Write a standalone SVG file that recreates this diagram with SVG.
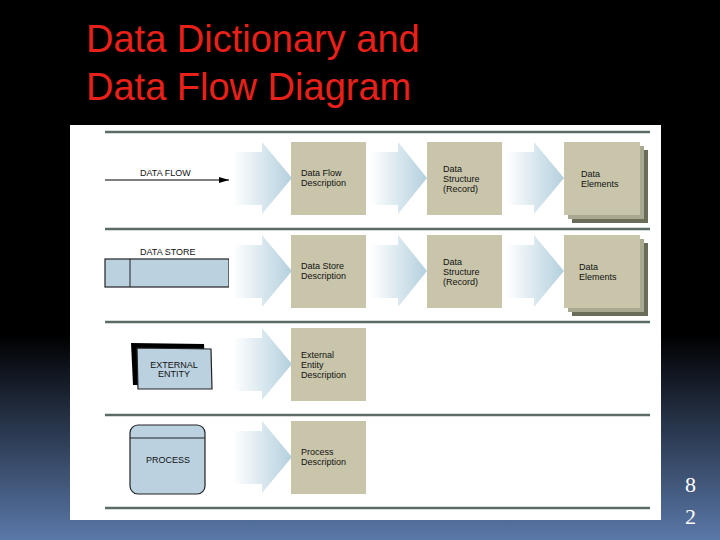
<svg xmlns="http://www.w3.org/2000/svg" width="720" height="540" viewBox="0 0 720 540">
<defs>
<linearGradient id="bg" x1="0" y1="0" x2="0" y2="1">
<stop offset="0" stop-color="#000"/><stop offset="0.62" stop-color="#000"/><stop offset="1" stop-color="#5a78a8"/>
</linearGradient>
<linearGradient id="ag" x1="0" y1="0" x2="1" y2="0">
<stop offset="0" stop-color="#fff"/><stop offset="1" stop-color="#b4d0de"/>
</linearGradient>
<marker id="ah" viewBox="0 0 10 6" refX="10" refY="3" markerWidth="10" markerHeight="6" orient="auto" markerUnits="userSpaceOnUse"><path d="M0,0L10,3L0,6z" fill="#000"/></marker>
</defs>
<style>
.t{font-family:"Liberation Sans",Arial,sans-serif;font-size:9px;fill:#111}
.b{fill:#c9c5aa}
.s1{fill:#a9a890}.s2{fill:#6c6c5a}
.sep{stroke:#5b6b68;stroke-width:2.5}
.sym{fill:#bcd1e0;stroke:#222;stroke-width:1.2}
.ttl{font-family:"Liberation Sans",Arial,sans-serif;font-size:38px;fill:#e8201a}
</style>
<rect width="720" height="540" fill="url(#bg)"/>
<text class="ttl" x="86" y="52">Data Dictionary and</text>
<text class="ttl" x="86" y="100">Data Flow Diagram</text>
<g font-family="Liberation Serif,serif" font-size="22" fill="#fff"><text x="685" y="492">8</text><text x="685" y="524">2</text></g>
<rect x="70" y="125" width="591" height="395" fill="#fff"/>
<g id="separators">
<line class="sep" x1="105" y1="132" x2="650" y2="132"/>
<line class="sep" x1="105" y1="229" x2="650" y2="229"/>
<line class="sep" x1="105" y1="322" x2="650" y2="322"/>
<line class="sep" x1="105" y1="415" x2="650" y2="415"/>
<line class="sep" x1="105" y1="508" x2="650" y2="508"/>
</g>
<g id="connectors" fill="url(#ag)">
<path d="M233,152H262V142L292,178L262,214V205H233z"/>
<path d="M370,152H398V142L427,178L398,214V205H370z"/>
<path d="M506,152H534V142L564,178L534,214V205H506z"/>
<path d="M233,245H262V235L292,271L262,307V298H233z"/>
<path d="M370,245H398V235L427,271L398,307V298H370z"/>
<path d="M506,245H534V235L564,271L534,307V298H506z"/>
<path d="M233,338H262V328L292,364L262,400V391H233z"/>
<path d="M233,431H262V421L292,457L262,493V484H233z"/>
</g>
<g id="dataflow"><line x1="105" y1="180" x2="229" y2="180" stroke="#000" stroke-width="1" marker-end="url(#ah)"/><text class="t" x="140" y="176">DATA FLOW</text></g>
<g id="datastore"><rect class="sym" x="105" y="259" width="124" height="28" stroke-width="1"/><line x1="130" y1="259" x2="130" y2="287" stroke="#222"/><rect x="229" y="258" width="3" height="30" fill="#fff"/><text class="t" x="140" y="255">DATA STORE</text></g>
<g id="entity"><path d="M131,343L204,344L206,386L133,385z" fill="#000"/><path d="M137,348L211,349L212,389L138,389z" class="sym"/><text class="t" x="174" y="368" text-anchor="middle">EXTERNAL</text><text class="t" x="174" y="377" text-anchor="middle">ENTITY</text></g>
<g id="process"><rect class="sym" x="130" y="425" width="75" height="69" rx="8"/><line x1="130" y1="438" x2="205" y2="438" stroke="#222"/><text class="t" x="168" y="463" text-anchor="middle">PROCESS</text></g>
<g id="dfdesc"><rect class="b" x="291" y="142" width="75" height="73"/><text class="t" x="301" y="176">Data Flow</text><text class="t" x="301" y="186">Description</text></g>
<g id="ds1"><rect class="b" x="427" y="142" width="75" height="73"/><text class="t" x="443" y="172">Data</text><text class="t" x="443" y="182">Structure</text><text class="t" x="443" y="192">(Record)</text></g>
<g id="de1"><rect class="s2" x="572" y="150" width="76" height="73"/><rect class="s1" x="568" y="146" width="76" height="73"/><rect class="b" x="564" y="142" width="76" height="73"/><text class="t" x="581" y="177">Data</text><text class="t" x="581" y="187">Elements</text></g>
<g id="dsdesc"><rect class="b" x="291" y="235" width="75" height="73"/><text class="t" x="301" y="269">Data Store</text><text class="t" x="301" y="279">Description</text></g>
<g id="ds2"><rect class="b" x="427" y="235" width="75" height="73"/><text class="t" x="443" y="265">Data</text><text class="t" x="443" y="275">Structure</text><text class="t" x="443" y="285">(Record)</text></g>
<g id="de2"><rect class="s2" x="572" y="243" width="76" height="73"/><rect class="s1" x="568" y="239" width="76" height="73"/><rect class="b" x="564" y="235" width="76" height="73"/><text class="t" x="579" y="270">Data</text><text class="t" x="579" y="280">Elements</text></g>
<g id="eedesc"><rect class="b" x="291" y="328" width="75" height="73"/><text class="t" x="301" y="358">External</text><text class="t" x="301" y="368">Entity</text><text class="t" x="301" y="378">Description</text></g>
<g id="pdesc"><rect class="b" x="291" y="421" width="75" height="73"/><text class="t" x="301" y="455">Process</text><text class="t" x="301" y="465">Description</text></g>
</svg>
